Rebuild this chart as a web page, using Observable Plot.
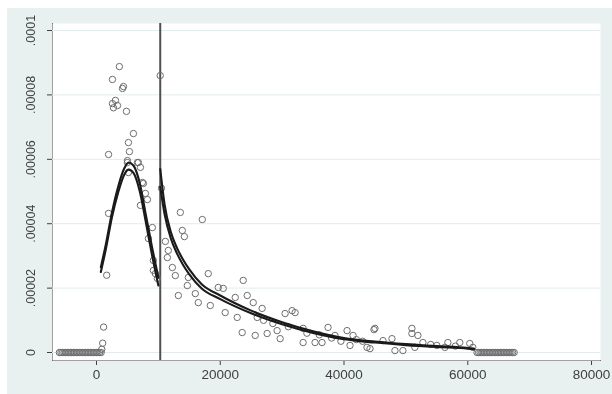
<!DOCTYPE html>
<html>
<head>
<meta charset="utf-8">
<script src="https://cdn.jsdelivr.net/npm/d3@7"></script>
<script src="https://cdn.jsdelivr.net/npm/@observablehq/plot@0.6"></script>
<style>
  html, body { margin: 0; padding: 0; background: #ffffff; }
  #page { position: relative; width: 612px; height: 394px; background: #ffffff; overflow: hidden; }
  #bg { position: absolute; left: 7px; top: 8px; width: 605px; height: 386px; background: #e8f0f0; }
  #bg svg { display: block; filter: blur(0.35px); }
  #bg svg [aria-label="x-axis tick label"] { font-size: 13.5px; }
</style>
</head>
<body>
<div id="page"><div id="bg"></div></div>
<script>
// ---- data ----
const cutoff = 10300;

// scatter: observed densities (hollow circles)
const scatterX = [
  // zero run on the left
  -6000, -5750, -5500, -5250, -5000, -4750, -4500, -4250, -4000, -3750, -3500, -3250, -3000, -2750,
  -2500, -2250, -2000, -1750, -1500, -1250, -1000, -750, -500, -250, 0, 250, 500, 750,
  // rising side
  850, 1000, 1150, 1650, 1950, 1950,
  // peak cloud
  2580, 2580, 2740, 3060, 3390, 3700, 4360, 4200, 4840, 5000, 5000, 5160, 5160, 5320, 5970, 6610, 6770,
  // falling side
  7100, 7100, 7420, 7580, 7900, 8230, 8390, 9030, 9190, 9190, 9520, 9840,
  // just at the cutoff
  10300,
  // right side, steep part
  10500, 11130, 11450, 11600, 12260, 12740, 13230, 13550, 13870, 14200, 14680, 14840, 15970,
  16450, 17100, 18060, 18390, 19680, 20480, 20800, 22420, 22740, 23550, 23710, 24360, 25330,
  25650, 25970,
  // tail
  26770, 27000, 27580, 28500, 29190, 29680, 30480, 31000, 31610, 32100, 33390, 33390, 34000,
  35320, 36000, 36450, 37420, 38000, 38550, 39500, 40490, 40970, 41460, 42000, 43000, 43710,
  44200, 44840, 45000, 46300, 47750, 48230, 49520, 50970, 50970, 51450, 51940, 52750, 54000,
  55000, 56300, 56780, 58000, 58710, 60320, 60810,
  // zero run on the right
  61500, 61750, 62000, 62250, 62500, 62750, 63000, 63250, 63500, 63750, 64000, 64250, 64500,
  64750, 65000, 65250, 65500, 65750, 66000, 66250, 66500, 66750, 67000, 67250, 67500
];
const scatterY = [
  0, 0, 0, 0, 0, 0, 0, 0, 0, 0, 0, 0, 0, 0,
  0, 0, 0, 0, 0, 0, 0, 0, 0, 0, 0, 0, 0, 0,
  0.0000010, 0.0000029, 0.0000079, 0.0000240, 0.0000432, 0.0000615,
  0.0000848, 0.0000773, 0.0000760, 0.0000783, 0.0000767, 0.0000888, 0.0000826, 0.0000820, 0.0000749,
  0.0000590, 0.0000596, 0.0000652, 0.0000559, 0.0000624, 0.0000680, 0.0000590, 0.0000590,
  0.0000575, 0.0000457, 0.0000528, 0.0000525, 0.0000494, 0.0000475, 0.0000354, 0.0000388,
  0.0000286, 0.0000255, 0.0000245, 0.0000230,
  0.0000860,
  0.0000510, 0.0000345, 0.0000295, 0.0000317, 0.0000264, 0.0000239, 0.0000177, 0.0000435,
  0.0000379, 0.0000360, 0.0000208, 0.0000233, 0.0000183,
  0.0000155, 0.0000413, 0.0000245, 0.0000146, 0.0000202, 0.0000199, 0.0000124, 0.0000171,
  0.0000109, 0.0000062, 0.0000224, 0.0000177, 0.0000155,
  0.0000053, 0.0000109,
  0.0000137, 0.0000100, 0.0000059, 0.0000090, 0.0000068, 0.0000043, 0.0000121, 0.0000080,
  0.0000130, 0.0000124, 0.0000075, 0.0000031, 0.0000060,
  0.0000031, 0.0000055, 0.0000031, 0.0000078, 0.0000045, 0.0000053, 0.0000035, 0.0000068,
  0.0000022, 0.0000053, 0.0000040, 0.0000035, 0.0000016,
  0.0000012, 0.0000071, 0.0000075, 0.0000037, 0.0000043, 0.0000006, 0.0000006, 0.0000075,
  0.0000059, 0.0000016, 0.0000053, 0.0000031, 0.0000025,
  0.0000022, 0.0000016, 0.0000031, 0.0000020, 0.0000031, 0.0000028, 0.0000016,
  0, 0, 0, 0, 0, 0, 0, 0, 0, 0, 0, 0, 0,
  0, 0, 0, 0, 0, 0, 0, 0, 0, 0, 0, 0
];

// fitted curves, left of cutoff (two nearly overlapping lines)
const leftFitX   = [700, 1500, 2500, 3500, 4500, 5200, 6000, 7000, 8000, 9000, 10000];
const leftUpper  = [0.0000265, 0.0000335, 0.0000435, 0.0000515, 0.0000572, 0.0000590, 0.0000580, 0.0000525, 0.0000425, 0.0000325, 0.0000232];
const leftLower  = [0.0000250, 0.0000320, 0.0000420, 0.0000497, 0.0000553, 0.0000568, 0.0000557, 0.0000500, 0.0000402, 0.0000300, 0.0000208];

// fitted curves, right of cutoff
const rightFitX  = [10300, 11000, 12000, 13000, 14000, 15000, 17000, 20000, 25000, 30000, 35000, 40000, 45000, 50000, 55000, 60000, 61000];
const rightUpper = [0.0000570, 0.0000460, 0.0000375, 0.0000325, 0.0000288, 0.0000258, 0.0000212, 0.0000177, 0.0000130, 0.0000094, 0.0000066, 0.0000045, 0.0000034, 0.0000026, 0.0000020, 0.0000014, 0.0000012];
const rightLower = [0.0000515, 0.0000430, 0.0000355, 0.0000308, 0.0000272, 0.0000243, 0.0000199, 0.0000166, 0.0000122, 0.0000088, 0.0000061, 0.0000041, 0.0000031, 0.0000023, 0.0000017, 0.0000012, 0.0000010];

const xTicks = [0, 20000, 40000, 60000, 80000];
const yTicks = [0, 0.00002, 0.00004, 0.00006, 0.00008, 0.0001];
const yTickLabels = ["0", ".00002", ".00004", ".00006", ".00008", ".0001"];

// ---- build tables ----
const points = scatterX.map((x, i) => ({x, y: scatterY[i]}));
const toLine = (xs, ys) => xs.map((x, i) => ({x, y: ys[i]}));
const lines = [
  toLine(leftFitX, leftUpper), toLine(leftFitX, leftLower),
  toLine(rightFitX, rightUpper), toLine(rightFitX, rightLower)
];
const yLabelRows = yTicks.map((v, i) => ({v, t: yTickLabels[i]}));

const chart = Plot.plot({
  width: 605,
  height: 386,
  marginLeft: 45,
  marginRight: 12,
  marginTop: 15,
  marginBottom: 34,
  style: {fontFamily: "'Liberation Sans', Arial, sans-serif", fontSize: "12px", color: "#404040", background: "transparent"},
  x: {domain: [-7110, 81450], ticks: xTicks, tickFormat: d => String(d), tickSize: 5, tickPadding: 4, line: true, label: null},
  y: {domain: [-0.00000248, 0.00010218], ticks: yTicks, tickFormat: () => "", tickSize: 5, line: true, label: null},
  marks: [
    Plot.frame({fill: "white", stroke: null}),
    Plot.gridY(yTicks, {stroke: "#e3ebeb", strokeOpacity: 1}),
    Plot.text(yLabelRows, {y: "v", text: "t", frameAnchor: "left", dx: -22, rotate: -90, textAnchor: "middle", lineAnchor: "middle", fontSize: 12.5, fill: "#404040"}),
    Plot.ruleX([cutoff], {stroke: "#505050", strokeWidth: 2}),
    Plot.dot(points, {x: "x", y: "y", r: 3.2, stroke: "#6e6e6e", strokeWidth: 1}),
    ...lines.map(l => Plot.line(l, {x: "x", y: "y", stroke: "#1a1a1a", strokeWidth: 2.1, curve: "monotone-x"}))
  ]
});
document.getElementById("bg").appendChild(chart);
</script>
</body>
</html>
